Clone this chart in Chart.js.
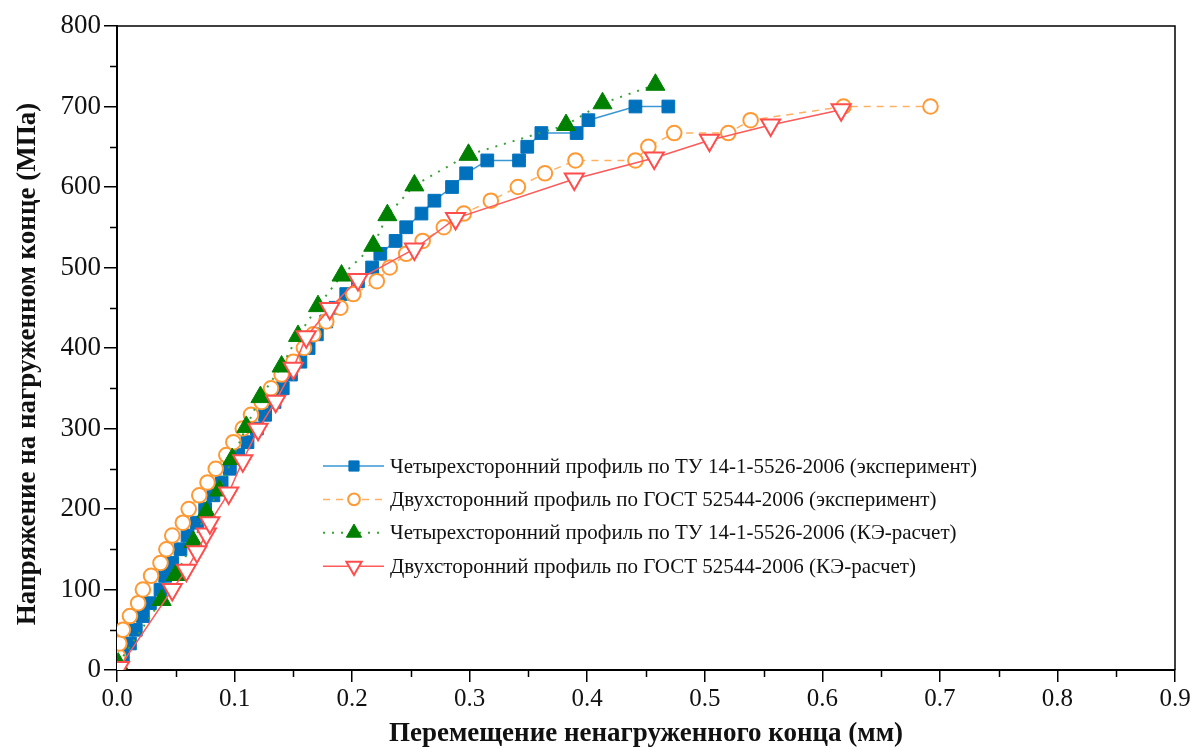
<!DOCTYPE html>
<html lang="ru">
<head>
<meta charset="utf-8">
<title>Напряжение – перемещение</title>
<script src="https://cdn.jsdelivr.net/npm/chart.js@4.4.0/dist/chart.umd.min.js"></script>
<style>
    html, body { margin: 0; padding: 0; background: #fff; }
    #wrap { width: 1195px; height: 749px; position: relative; }
</style>
</head>
<body>
<div id="wrap"><canvas id="slipChart"></canvas></div>
<script>
// Четырехсторонний профиль, эксперимент
const fourExpDisp = [0.000, 0.005, 0.011, 0.016, 0.022, 0.028, 0.037, 0.041, 0.047, 0.054,
    0.060, 0.068, 0.075, 0.082, 0.089, 0.096, 0.103, 0.111, 0.119, 0.126,
    0.134, 0.141, 0.148, 0.156, 0.163, 0.170, 0.178, 0.186, 0.195, 0.205,
    0.217, 0.224, 0.237, 0.246, 0.259, 0.270, 0.285, 0.297, 0.315, 0.342,
    0.349, 0.361, 0.391, 0.401, 0.441, 0.469];
const fourExpStress = [0, 17, 33, 50, 67, 83, 100, 117, 133, 150,
    167, 183, 200, 217, 233, 250, 267, 283, 300, 317,
    333, 350, 367, 383, 400, 417, 433, 450, 467, 483,
    500, 517, 533, 550, 567, 583, 600, 617, 633, 633,
    650, 667, 667, 683, 700, 700];

// Двухсторонний профиль, эксперимент
const twoExpDisp = [0.000, 0.001, 0.002, 0.005, 0.011, 0.018, 0.022, 0.029, 0.037, 0.042,
    0.047, 0.056, 0.061, 0.070, 0.077, 0.084, 0.093, 0.099, 0.107, 0.114,
    0.123, 0.131, 0.140, 0.150, 0.159, 0.167, 0.178, 0.190, 0.201, 0.221,
    0.232, 0.246, 0.260, 0.278, 0.295, 0.318, 0.341, 0.364, 0.390, 0.441,
    0.452, 0.474, 0.520, 0.539, 0.618, 0.692];
const twoExpStress = [0, 17, 33, 50, 67, 83, 100, 117, 133, 150,
    167, 183, 200, 217, 233, 250, 267, 283, 300, 317,
    333, 350, 367, 383, 400, 417, 433, 450, 467, 483,
    500, 517, 533, 550, 567, 583, 600, 617, 633, 633,
    650, 667, 667, 683, 700, 700];

// Четырехсторонний профиль, КЭ-расчет
const fourFeDisp = [0.001, 0.038, 0.050, 0.065, 0.076, 0.087, 0.098, 0.110, 0.122, 0.140,
    0.154, 0.171, 0.191, 0.218, 0.230, 0.253, 0.299, 0.382, 0.413, 0.458];
const fourFeStress = [8, 87, 118, 159, 196, 223, 262, 302, 339, 377,
    415, 452, 490, 527, 565, 602, 640, 677, 704, 727];

// Двухсторонний профиль, КЭ-расчет
const twoFeDisp = [0.002, 0.047, 0.059, 0.068, 0.076, 0.079, 0.095, 0.107, 0.120, 0.135,
    0.150, 0.161, 0.181, 0.205, 0.253, 0.288, 0.389, 0.457, 0.504, 0.556, 0.616];
const twoFeStress = [3, 100, 124, 147, 169, 183, 220, 260, 299, 334,
    375, 414, 449, 485, 523, 561, 610, 636, 658, 677, 696];

const seriesLabels = [
    'Четырехсторонний профиль по ТУ 14-1-5526-2006 (эксперимент)',
    'Двухсторонний профиль по ГОСТ 52544-2006 (эксперимент)',
    'Четырехсторонний профиль по ТУ 14-1-5526-2006 (КЭ-расчет)',
    'Двухсторонний профиль по ГОСТ 52544-2006 (КЭ-расчет)'
];
const yTitle = 'Напряжение на нагруженном конце (МПа)';
const xTitle = 'Перемещение ненагруженного конца (мм)';

const FONT = '"Liberation Serif", "Times New Roman", serif';

function toPoints(xs, ys) {
    return xs.map((x, i) => ({ x: x, y: ys[i] }));
}

// minor ticks, frame on top/right, y title
const frameAndMinor = {
    id: 'frameAndMinor',
    afterDraw(chart) {
        const { ctx, chartArea: a, scales: { x, y } } = chart;
        ctx.save();
        ctx.strokeStyle = '#000';
        ctx.lineWidth = 1.5;
        ctx.beginPath();
        for (let v = 50; v < 800; v += 100) {
            const py = Math.round(y.getPixelForValue(v)) + 0.5;
            ctx.moveTo(a.left - 7, py);
            ctx.lineTo(a.left, py);
        }
        for (let v = 0.05; v < 0.9; v += 0.1) {
            const px = Math.round(x.getPixelForValue(v)) + 0.5;
            ctx.moveTo(px, a.bottom);
            ctx.lineTo(px, a.bottom + 7);
        }
        ctx.stroke();
        ctx.beginPath();
        ctx.moveTo(a.left, a.top);
        ctx.lineTo(a.right, a.top);
        ctx.lineTo(a.right, a.bottom);
        ctx.stroke();

        // y axis title, a bit below the middle like the original
        ctx.translate(28, 364);
        ctx.rotate(-Math.PI / 2);
        ctx.fillStyle = '#111';
        ctx.font = 'bold 27px ' + FONT;
        ctx.textAlign = 'center';
        ctx.textBaseline = 'middle';
        ctx.fillText(yTitle, 0, 0);
        ctx.restore();
    }
};

// legend drawn inside the plot, line sample + marker like in Origin
const legendInside = {
    id: 'legendInside',
    afterDraw(chart) {
        const ctx = chart.ctx;
        chart.data.datasets.forEach((ds, i) => {
            const yy = 466 + i * 33.4;
            ctx.save();
            ctx.strokeStyle = ds.borderColor;
            ctx.lineWidth = ds.borderWidth;
            ctx.setLineDash(ds.borderDash || []);
            ctx.beginPath();
            ctx.moveTo(323, yy);
            ctx.lineTo(384, yy);
            ctx.stroke();
            ctx.setLineDash([]);
            ctx.fillStyle = ds.pointBackgroundColor;
            ctx.strokeStyle = ds.pointBorderColor;
            ctx.lineWidth = ds.pointBorderWidth;
            Chart.helpers.drawPoint(ctx, {
                pointStyle: ds.pointStyle,
                rotation: ds.pointRotation || 0,
                radius: ds.pointRadius * 0.8,
                borderWidth: ds.pointBorderWidth
            }, 354, yy);
            ctx.fillStyle = '#111';
            ctx.font = '21px ' + FONT;
            ctx.textBaseline = 'middle';
            ctx.textAlign = 'left';
            ctx.fillText(ds.label, 390, yy + 1);
            ctx.restore();
        });
    }
};

const ctx = document.getElementById('slipChart').getContext('2d');
new Chart(ctx, {
    type: 'scatter',
    data: {
        datasets: [
            {
                label: seriesLabels[0],
                data: toPoints(fourExpDisp, fourExpStress),
                showLine: true,
                borderColor: '#3a97d4',
                borderWidth: 1.5,
                pointStyle: 'rect',
                pointRadius: 9,
                pointBackgroundColor: '#0072bd',
                pointBorderColor: '#0072bd',
                pointBorderWidth: 1,
                order: 4
            },
            {
                label: seriesLabels[1],
                data: toPoints(twoExpDisp, twoExpStress),
                showLine: true,
                borderColor: '#ffb060',
                borderWidth: 1.5,
                borderDash: [7, 6],
                pointStyle: 'circle',
                pointRadius: 7.3,
                pointBackgroundColor: '#ffffff',
                pointBorderColor: '#ff9933',
                pointBorderWidth: 2,
                order: 3
            },
            {
                label: seriesLabels[2],
                data: toPoints(fourFeDisp, fourFeStress),
                showLine: true,
                borderColor: '#3aa03a',
                borderWidth: 2,
                borderDash: [2, 7],
                pointStyle: 'triangle',
                pointRadius: 11,
                pointBackgroundColor: '#008000',
                pointBorderColor: '#008000',
                pointBorderWidth: 1,
                order: 2
            },
            {
                label: seriesLabels[3],
                data: toPoints(twoFeDisp, twoFeStress),
                showLine: true,
                borderColor: '#ff5a5a',
                borderWidth: 1.5,
                pointStyle: 'triangle',
                pointRotation: 180,
                pointRadius: 11,
                pointBackgroundColor: '#ffffff',
                pointBorderColor: '#ff4d4d',
                pointBorderWidth: 2,
                order: 1
            }
        ]
    },
    options: {
        responsive: true,
        maintainAspectRatio: false,
        animation: false,
        layout: { padding: { top: 26, right: 20, left: 0, bottom: 0 } },
        elements: { line: { tension: 0 } },
        plugins: {
            legend: { display: false },
            tooltip: { enabled: false }
        },
        scales: {
            x: {
                type: 'linear',
                min: 0,
                max: 0.9,
                afterFit: scale => { scale.height = 79; },
                ticks: {
                    stepSize: 0.1,
                    color: '#111',
                    padding: 2,
                    font: { family: FONT, size: 25 },
                    callback: v => v.toFixed(1)
                },
                grid: { drawOnChartArea: false, drawTicks: true, tickLength: 12, color: '#000', lineWidth: 1.5 },
                border: { display: true, color: '#000', width: 2 },
                title: {
                    display: true,
                    text: xTitle,
                    color: '#111',
                    font: { family: FONT, size: 27, weight: 'bold', lineHeight: 1 },
                    padding: { top: 1, bottom: 1 }
                }
            },
            y: {
                min: 0,
                max: 800,
                afterFit: scale => { scale.width = 117; },
                ticks: {
                    stepSize: 100,
                    color: '#111',
                    padding: 3,
                    font: { family: FONT, size: 27 }
                },
                grid: { drawOnChartArea: false, drawTicks: true, tickLength: 13, color: '#000', lineWidth: 1.5 },
                border: { display: true, color: '#000', width: 2 },
                title: { display: false }
            }
        }
    },
    plugins: [frameAndMinor, legendInside]
});
</script>
</body>
</html>
